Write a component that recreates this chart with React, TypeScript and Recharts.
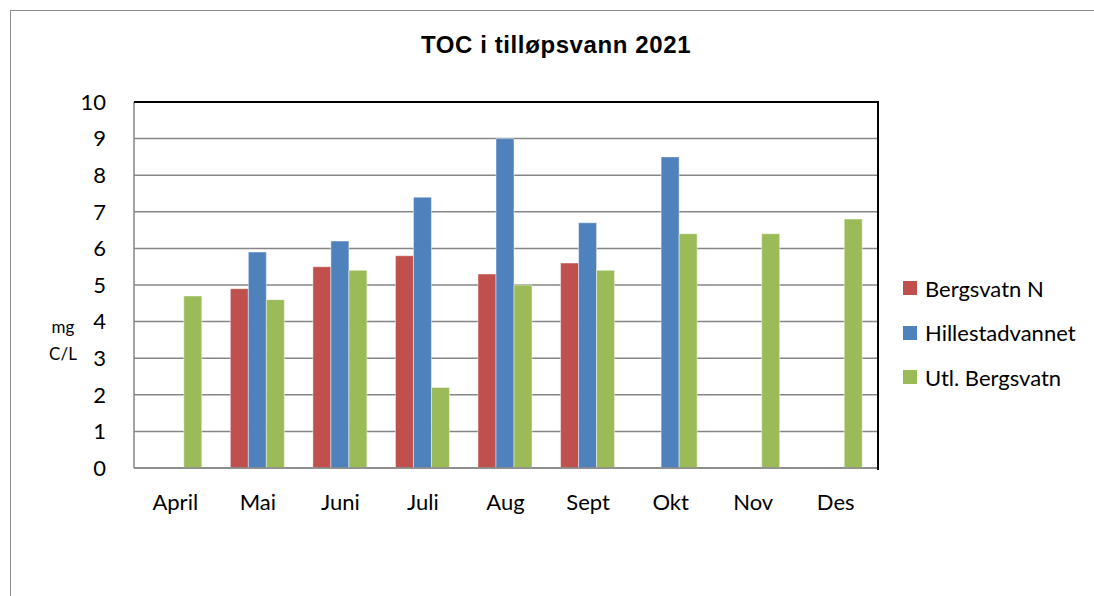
import React from 'react';
import { BarChart, Bar, XAxis, YAxis, CartesianGrid } from 'recharts';

const months = ['April', 'Mai', 'Juni', 'Juli', 'Aug', 'Sept', 'Okt', 'Nov', 'Des'];
const bergsvatnN = [null, 4.9, 5.5, 5.8, 5.3, 5.6, null, null, null];
const hillestad = [null, 5.9, 6.2, 7.4, 9.0, 6.7, 8.5, null, null];
const utlBergsvatn = [4.7, 4.6, 5.4, 2.2, 5.0, 5.4, 6.4, 6.4, 6.8];
const yTicks = [0, 1, 2, 3, 4, 5, 6, 7, 8, 9, 10];

const series = [
  { key: 'bergsvatnN', name: 'Bergsvatn N', color: '#C0504D' },
  { key: 'hillestad', name: 'Hillestadvannet', color: '#4F81BD' },
  { key: 'utl', name: 'Utl. Bergsvatn', color: '#9BBB59' },
];

const data = months.map((m, i) => ({
  month: m,
  bergsvatnN: bergsvatnN[i],
  hillestad: hillestad[i],
  utl: utlBergsvatn[i],
}));

const font = 'Lato, "Open Sans", sans-serif';

export default function App() {
  return (
    <div style={{ position: 'absolute', left: 0, top: 0, width: 1094, height: 596, overflow: 'hidden', background: '#fff' }}>
      <div
        style={{
          position: 'absolute',
          left: 10,
          top: 10,
          width: 1200,
          height: 700,
          border: '1.5px solid #8c8c8c',
        }}
      />
      <div
        style={{
          position: 'absolute',
          left: 0,
          width: 1094,
          top: 31,
          textAlign: 'center',
          fontFamily: '"Liberation Sans", Arial, sans-serif',
          fontWeight: 'bold',
          fontSize: 24,
          letterSpacing: 0.6,
          paddingLeft: 18,
          boxSizing: 'border-box',
        }}
      >
        TOC i tilløpsvann 2021
      </div>
      <div
        style={{
          position: 'absolute',
          left: 46,
          top: 313,
          width: 34,
          textAlign: 'center',
          fontFamily: font,
          fontSize: 17,
          lineHeight: '27px',
        }}
      >
        mg
        <br />
        C/L
      </div>
      <div style={{ position: 'absolute', left: 0, top: 0 }}>
        <BarChart
          width={1094}
          height={596}
          data={data}
          margin={{ top: 102, right: 217, bottom: 88, left: 74 }}
          barCategoryGap="16.7%"
          barGap={0}
        >
          <CartesianGrid vertical={false} stroke="#868686" strokeWidth={1.5} />
          <XAxis
            dataKey="month"
            height={40}
            axisLine={{ stroke: '#868686', strokeWidth: 1.5 }}
            tickLine={false}
            tick={{ fill: '#000', fontSize: 22, fontFamily: font }}
            tickMargin={20}
          />
          <YAxis
            domain={[0, 10]}
            ticks={yTicks}
            width={60}
            interval={0}
            axisLine={{ stroke: '#868686', strokeWidth: 1.5 }}
            tickLine={false}
            tick={{ fill: '#000', fontSize: 22, fontFamily: font }}
            tickMargin={22}
          />
          {series.map((s) => (
            <Bar
              key={s.key}
              dataKey={s.key}
              name={s.name}
              fill={s.color}
              stroke="rgba(255,255,255,0.45)"
              strokeWidth={1}
              isAnimationActive={false}
            />
          ))}
        </BarChart>
      </div>
      {/* plot frame: black top and right edges */}
      <div
        style={{
          position: 'absolute',
          left: 134,
          top: 101,
          width: 743,
          height: 367,
          borderTop: '2px solid #000',
          borderRight: '2px solid #000',
          pointerEvents: 'none',
        }}
      />
      <div style={{ position: 'absolute', left: 903, top: 266, fontFamily: font, fontSize: 22, color: '#000' }}>
        {series.map((s) => (
          <div key={s.key} style={{ display: 'flex', alignItems: 'center', height: 44.5 }}>
            <span style={{ width: 14, height: 14, background: s.color, display: 'inline-block', marginRight: 8 }} />
            <span>{s.name}</span>
          </div>
        ))}
      </div>
    </div>
  );
}
